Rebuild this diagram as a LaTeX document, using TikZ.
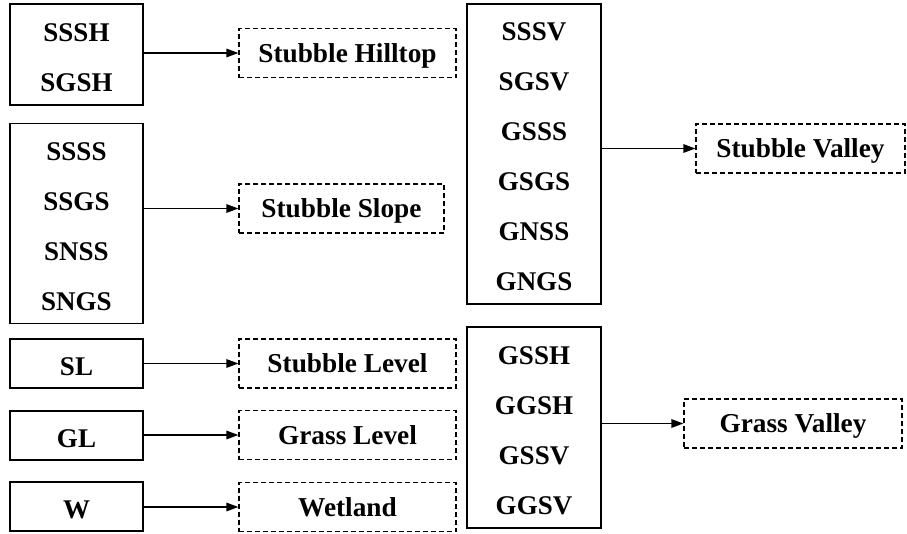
\documentclass[tikz,border=0pt]{standalone}
\usepackage{fontspec}
\setmainfont{Liberation Serif}
\usepackage{tikz}
\usetikzlibrary{positioning}
\usetikzlibrary{arrows.meta}

\newcommand{\capstrut}{\rule{0pt}{24pt}}
\tikzset{
  codes/.style={draw,line width=1.2pt,align=center,inner sep=0pt,minimum width=133pt,font=\bfseries\fontsize{27}{50}\selectfont},
  zone/.style={draw,dash pattern=on 5pt off 3pt,line width=1.2pt,inner sep=0pt,minimum height=49pt,text depth=0pt,font=\bfseries\fontsize{27.3}{32}\selectfont},
  feed/.style={line width=1.4pt,-{Triangle[length=12pt,width=8.5pt]}}
}

\begin{document}
\begin{tikzpicture}[x=1pt,y=-1pt]
\useasboundingbox (0,0) rectangle (907,533);
% left column
\node (hillsrc) at (76.5,54.5) [codes,minimum height=101pt]{\capstrut SSSH\\SGSH};
\node (slopesrc) at (76.5,223.5) [codes,minimum height=200pt]{\capstrut SSSS\\SSGS\\SNSS\\SNGS};
\node (slsrc) at (76.5,363.5) [codes,minimum height=49pt]{\capstrut SL};
\node (glsrc) at (76.5,435.5) [codes,minimum height=49pt]{\capstrut GL};
\node (wsrc) at (76.5,506.5) [codes,minimum height=49pt]{\capstrut W};
\node (hilltop) at (347.5,53) [zone,minimum width=217pt]{Stubble Hilltop};
\node (slope) at (341.5,208.5) [zone,minimum width=205pt]{Stubble Slope};
\node (slevel) at (347.5,363.5) [zone,minimum width=217pt]{Stubble Level};
\node (glevel) at (347.5,435) [zone,minimum width=217pt]{Grass Level};
\node (wetland) at (347.5,507) [zone,minimum width=217pt]{Wetland};
% right column
\node (svsrc) at (534,154) [codes,minimum width=134pt,minimum height=300pt]{\capstrut SSSV\\SGSV\\GSSS\\GSGS\\GNSS\\GNGS};
\node (gvsrc) at (534,427.5) [codes,minimum width=134pt,minimum height=201pt]{\capstrut GSSH\\GGSH\\GSSV\\GGSV};
\node (svalley) at (800.5,148.5) [zone,minimum width=209pt]{Stubble Valley};
\node (gvalley) at (793,423.5) [zone,minimum width=218pt]{Grass Valley};
% arrows
\draw[feed] (hillsrc.east |- hilltop.west) -- (hilltop.west);
\draw[feed] (slopesrc.east |- slope.west) -- (slope.west);
\draw[feed] (slsrc.east |- slevel.west) -- (slevel.west);
\draw[feed] (glsrc.east |- glevel.west) -- (glevel.west);
\draw[feed] (wsrc.east |- wetland.west) -- (wetland.west);
\draw[feed] (svsrc.east |- svalley.west) -- (svalley.west);
\draw[feed] (gvsrc.east |- gvalley.west) -- (gvalley.west);
\end{tikzpicture}
\end{document}
